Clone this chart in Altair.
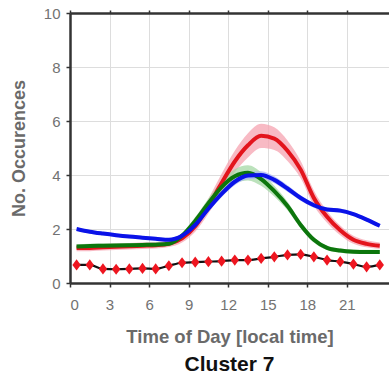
import altair as alt
import pandas as pd

# Hour-of-day bins (bin centres, local time)
hours = [0.5, 1.5, 2.5, 3.5, 4.5, 5.5, 6.5, 7.5, 8.5, 9.5, 10.5, 11.5,
         12.5, 13.5, 14.5, 15.5, 16.5, 17.5, 18.5, 19.5, 20.5, 21.5, 22.5, 23.5]

# Mean number of occurrences per group and the half-width of its shaded band
red_mean = [1.30, 1.30, 1.32, 1.34, 1.36, 1.38, 1.40, 1.45, 1.65, 2.10, 2.85, 3.70,
            4.50, 5.10, 5.45, 5.35, 4.90, 4.20, 3.15, 2.45, 1.95, 1.60, 1.45, 1.38]
red_err = [0.12, 0.12, 0.12, 0.12, 0.12, 0.12, 0.12, 0.12, 0.15, 0.20, 0.28, 0.35,
           0.40, 0.45, 0.45, 0.42, 0.38, 0.32, 0.28, 0.22, 0.18, 0.15, 0.13, 0.12]

green_mean = [1.35, 1.37, 1.38, 1.39, 1.40, 1.41, 1.42, 1.45, 1.75, 2.30, 2.95, 3.55,
              3.95, 4.08, 3.85, 3.40, 2.85, 2.15, 1.60, 1.30, 1.20, 1.16, 1.15, 1.15]
green_err = [0.08, 0.08, 0.08, 0.08, 0.08, 0.08, 0.08, 0.08, 0.10, 0.14, 0.18, 0.22,
             0.26, 0.28, 0.25, 0.20, 0.16, 0.12, 0.10, 0.08, 0.08, 0.08, 0.08, 0.08]

blue_mean = [2.00, 1.90, 1.83, 1.77, 1.72, 1.68, 1.64, 1.60, 1.75, 2.15, 2.75, 3.30,
             3.75, 3.98, 4.00, 3.82, 3.50, 3.15, 2.88, 2.72, 2.68, 2.55, 2.35, 2.12]
blue_err = [0.06, 0.06, 0.06, 0.06, 0.06, 0.06, 0.06, 0.06, 0.07, 0.08, 0.10, 0.12,
            0.13, 0.14, 0.14, 0.13, 0.12, 0.10, 0.09, 0.08, 0.08, 0.07, 0.07, 0.06]

# Reference (baseline) occurrence curve drawn with diamond markers
baseline = [0.67, 0.67, 0.52, 0.51, 0.52, 0.54, 0.52, 0.64, 0.75, 0.77, 0.79, 0.81,
            0.85, 0.85, 0.91, 0.97, 1.04, 1.06, 0.97, 0.85, 0.79, 0.70, 0.60, 0.67]

groups = ["red", "green", "blue"]
line_colors = ["#e3141c", "#0c760c", "#0a12e8"]
band_colors = ["#f5a3b0", "#a6d8a6", "#aab6f6"]

x_ticks = [0, 3, 6, 9, 12, 15, 18, 21]
y_ticks = [0, 2, 4, 6, 8, 10]

rows = []
for g, mean, err in zip(groups, [red_mean, green_mean, blue_mean],
                        [red_err, green_err, blue_err]):
    for h, m, e in zip(hours, mean, err):
        rows.append({"hour": h, "group": g, "value": m, "lo": m - e, "hi": m + e})
df = pd.DataFrame(rows)
base_df = pd.DataFrame({"hour": hours, "count": baseline})

FONT = "Liberation Sans"
x_scale = alt.Scale(domain=[0, 24.2], nice=False, zero=False)
y_scale = alt.Scale(domain=[0, 10], nice=False)

x_axis = alt.Axis(
    values=x_ticks, title="Time of Day [local time]", grid=True,
    gridColor="#dddddd", gridWidth=1, domain=True, domainColor="#333333",
    domainWidth=2.5, ticks=True, tickColor="#333333", tickSize=4, tickWidth=1.5,
    labelFont=FONT, labelFontSize=15, labelColor="#727272", labelPadding=10,
    titleFont=FONT, titleFontSize=18.5, titleFontWeight="bold", titleColor="#6a6a6a",
    titleY=53, titleBaseline="middle",
)
y_axis = alt.Axis(
    values=y_ticks, title="No. Occurences", grid=True,
    gridColor="#dddddd", gridWidth=1, domain=True, domainColor="#333333",
    domainWidth=2.5, ticks=True, tickColor="#333333", tickSize=4, tickWidth=1.5,
    labelFont=FONT, labelFontSize=15, labelColor="#727272", labelPadding=6,
    titleFont=FONT, titleFontSize=18, titleFontWeight="bold", titleColor="#6a6a6a",
    titleX=-51, titleY=135, titleAngle=-90, titleAlign="center", titleBaseline="middle",
)
top_axis = alt.Axis(
    orient="top", values=x_ticks, title=None, labels=False, grid=False,
    domain=True, domainColor="#333333", domainWidth=2.5,
    ticks=True, tickColor="#333333", tickSize=3, tickWidth=1.5,
)

color = alt.Color("group:N", scale=alt.Scale(domain=groups, range=line_colors), legend=None)
fill = alt.Color("group:N", scale=alt.Scale(domain=groups, range=band_colors), legend=None)

frame = alt.Chart(base_df).mark_rule(strokeWidth=0).encode(
    x=alt.X("hour:Q", scale=x_scale, axis=top_axis),
    y=alt.Y("count:Q", scale=y_scale, axis=None),
)

axes = alt.Chart(base_df).mark_point(opacity=0).encode(
    x=alt.X("hour:Q", scale=x_scale, axis=x_axis),
    y=alt.Y("count:Q", scale=y_scale, axis=y_axis),
)

bands = alt.Chart(df).mark_area(opacity=0.75, interpolate="monotone").encode(
    x=alt.X("hour:Q", scale=x_scale, axis=None),
    y=alt.Y("lo:Q", scale=y_scale, axis=None),
    y2="hi:Q",
    color=fill,
    detail="group:N",
)

lines = alt.Chart(df).mark_line(strokeWidth=4, interpolate="monotone").encode(
    x=alt.X("hour:Q", scale=x_scale, axis=None),
    y=alt.Y("value:Q", scale=y_scale, axis=None),
    color=color,
    detail="group:N",
)

base_line = alt.Chart(base_df).mark_line(color="#111111", strokeWidth=2.2,
                                         interpolate="monotone").encode(
    x=alt.X("hour:Q", scale=x_scale, axis=None),
    y=alt.Y("count:Q", scale=y_scale, axis=None),
)

diamonds = alt.Chart(base_df).mark_point(
    shape="M-0.75,0L0,-1L0.75,0L0,1Z", size=125, filled=True, color="#ee1620", opacity=1
).encode(
    x=alt.X("hour:Q", scale=x_scale, axis=None),
    y=alt.Y("count:Q", scale=y_scale, axis=None),
)

chart = alt.layer(axes, bands, lines, base_line, diamonds, frame).resolve_scale(
    color="independent"
).resolve_axis(x="independent", y="independent").properties(
    width=319, height=270,
    autosize=alt.AutoSizeParams(type="none"),
    padding={"left": 70, "top": 13, "right": 0, "bottom": 91},
    title=alt.TitleParams("Cluster 7", orient="bottom", anchor="middle",
                          font=FONT, fontSize=21, fontWeight="bold",
                          color="#111111", offset=8),
).configure_view(stroke=None).configure(background="white")

chart.save("out.html", embed_options={"renderer": "svg", "actions": False})
